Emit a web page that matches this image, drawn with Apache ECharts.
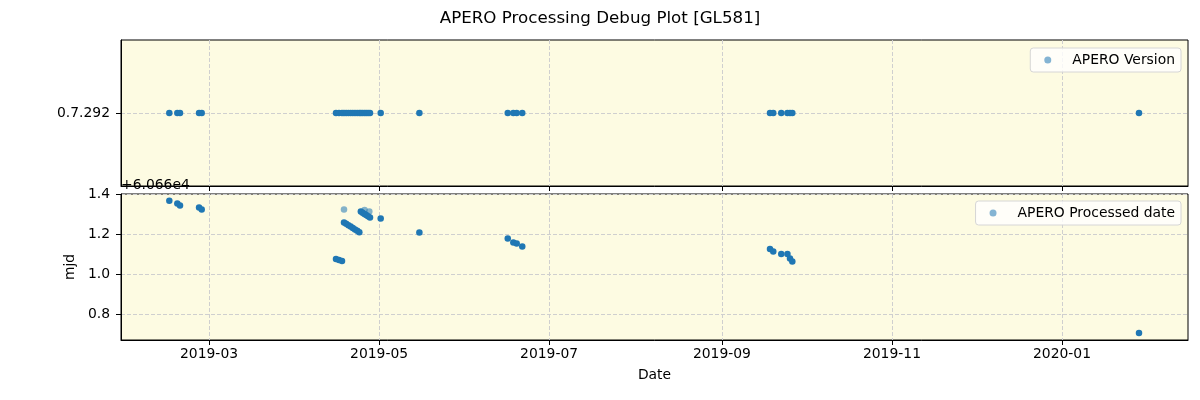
<!DOCTYPE html>
<html>
<head>
<meta charset="utf-8">
<script src="https://cdn.jsdelivr.net/npm/echarts@6/dist/echarts.min.js"></script>
<style>html,body{margin:0;padding:0;background:#fff;}#c{width:1200px;height:400px;}</style>
</head>
<body>
<div id="c"></div>
<script>
// ---- data ----
const obsDates = [
  '2019-02-14 18:00','2019-02-17 15:00','2019-02-18 14:00','2019-02-25 10:00','2019-02-26 09:00',
  '2019-04-15 13:00','2019-04-16 15:00','2019-04-17 17:00',
  '2019-04-18 10:00','2019-04-19 05:00','2019-04-20 00:00','2019-04-20 19:00','2019-04-21 14:00','2019-04-22 09:00','2019-04-23 04:00','2019-04-23 22:00',
  '2019-04-24 11:00','2019-04-25 02:00','2019-04-25 18:00','2019-04-26 09:00','2019-04-27 01:00','2019-04-27 18:00',
  '2019-05-01 14:00','2019-05-15 11:00',
  '2019-06-16 04:00','2019-06-18 04:00','2019-06-19 09:00','2019-06-21 09:00',
  '2019-09-18 06:00','2019-09-19 10:00','2019-09-22 07:00','2019-09-24 12:00','2019-09-25 10:00','2019-09-26 06:00',
  '2020-01-28 15:00'
];
const versions = obsDates.map(() => '0.7.292');
const processedMjd = [
  60661.366, 60661.353, 60661.342, 60661.333, 60661.323,
  60661.075, 60661.070, 60661.065,
  60661.258, 60661.251, 60661.244, 60661.237, 60661.230, 60661.223, 60661.216, 60661.209,
  60661.312, 60661.306, 60661.300, 60661.295, 60661.289, 60661.282,
  60661.278, 60661.208,
  60661.178, 60661.158, 60661.153, 60661.137,
  60661.125, 60661.112, 60661.100, 60661.100, 60661.078, 60661.062,
  60660.705
];
// single (semi-transparent) entries
const fadedDates = ['2019-04-18 10:00','2019-04-25 19:00','2019-04-27 12:00'];
const fadedMjd = [60661.323, 60661.320, 60661.312];

const versionTicks = ['0.7.292'];
const xTickDates = ['2019-03-01','2019-05-01','2019-07-01','2019-09-01','2019-11-01','2020-01-01'];
const mjdTicks = [60660.8, 60661.0, 60661.2, 60661.4];
const mjdOffset = 60660;
const xMinDate = '2019-01-28 10:00';
const xMaxDate = '2020-02-15 05:00';

// ---- chart ----
const ts = s => echarts.time.parse(s).getTime();
const xTicks = xTickDates.map(ts);
const pad2 = n => (n < 10 ? '0' : '') + n;
const fmtDate = v => { const d = new Date(v); return d.getFullYear() + '-' + pad2(d.getMonth() + 1); };

const blue = '#1f77b4';
const font = 'DejaVu Sans';
const fs = 13.9;
const grid = { show: true, backgroundColor: '#fdfbe2', borderColor: '#000', borderWidth: 1 };
const dash = { show: true, lineStyle: { color: '#cfcfcf', type: [4, 2], width: 1 } };

const topData = obsDates.map((d, i) => ({ value: [ts(d), versionTicks.indexOf(versions[i])], itemStyle: { opacity: 1 } }));
const botData = obsDates.map((d, i) => ({ value: [ts(d), processedMjd[i]], itemStyle: { opacity: 1 } }))
  .concat(fadedDates.map((d, i) => ({ value: [ts(d), fadedMjd[i]], itemStyle: { opacity: 0.55 } })));

function xAxis(gi, showLabel) {
  return {
    type: 'value', gridIndex: gi, min: ts(xMinDate), max: ts(xMaxDate), scale: true,
    axisLine: { show: true, onZero: false, lineStyle: { color: '#000' } },
    axisTick: { show: true, length: 5, customValues: xTicks, lineStyle: { color: '#000' } },
    axisLabel: { show: showLabel, customValues: xTicks, formatter: fmtDate, color: '#000', fontFamily: font, fontSize: fs, margin: 7 },
    splitLine: dash,
    name: showLabel ? 'Date' : '', nameLocation: 'middle', nameGap: 28,
    nameTextStyle: { color: '#000', fontFamily: font, fontSize: fs }
  };
}

const option = {
  animation: false,
  title: { text: 'APERO Processing Debug Plot [GL581]', left: 'center', top: 5,
    textStyle: { fontFamily: font, fontSize: 16.7, fontWeight: 'normal', color: '#000' } },
  grid: [
    Object.assign({ left: 121, right: 12, top: 40, height: 146 }, grid),
    Object.assign({ left: 121, right: 12, top: 194, height: 146 }, grid)
  ],
  xAxis: [xAxis(0, false), xAxis(1, true)],
  yAxis: [
    { type: 'value', gridIndex: 0, min: -1, max: 1,
      axisLine: { show: true, onZero: false, lineStyle: { color: '#000' } },
      axisTick: { show: true, length: 5, customValues: [0], lineStyle: { color: '#000' } },
      axisLabel: { customValues: [0], formatter: v => versionTicks[Math.round(v)] || '', color: '#000', fontFamily: font, fontSize: fs, margin: 11 },
      splitLine: dash },
    { type: 'value', gridIndex: 1, min: 60660.67, max: 60661.4, scale: true,
      axisLine: { show: true, onZero: false, lineStyle: { color: '#000' } },
      axisTick: { show: true, length: 5, customValues: mjdTicks, lineStyle: { color: '#000' } },
      axisLabel: { customValues: mjdTicks, formatter: v => (v - mjdOffset).toFixed(1), color: '#000', fontFamily: font, fontSize: fs, margin: 11 },
      splitLine: dash,
      name: 'mjd', nameLocation: 'middle', nameGap: 37, nameRotate: 90,
      nameTextStyle: { color: '#000', fontFamily: font, fontSize: fs } }
  ],
  legend: [
    { data: ['APERO Version'], right: 19, top: 48, orient: 'vertical',
      backgroundColor: 'rgba(255,255,255,0.8)', borderColor: '#d6d6d6', borderWidth: 1, borderRadius: 3,
      padding: [5, 6, 5, 14], itemWidth: 7, itemHeight: 7, icon: 'circle',
      textStyle: { fontFamily: font, fontSize: fs, color: '#000', padding: [0, 0, 0, 16] } },
    { data: ['APERO Processed date'], right: 19, top: 201, orient: 'vertical',
      backgroundColor: 'rgba(255,255,255,0.8)', borderColor: '#d6d6d6', borderWidth: 1, borderRadius: 3,
      padding: [5, 6, 5, 14], itemWidth: 7, itemHeight: 7, icon: 'circle',
      textStyle: { fontFamily: font, fontSize: fs, color: '#000', padding: [0, 0, 0, 16] } }
  ],
  graphic: [
    { type: 'text', left: 121, top: 178, z: 100,
      style: { text: '+6.066e4', fontFamily: font, fontSize: fs, fill: '#000' } }
  ],
  series: [
    { name: 'APERO Version', type: 'scatter', xAxisIndex: 0, yAxisIndex: 0, symbolSize: 6.5,
      itemStyle: { color: blue, opacity: 0.55 }, data: topData },
    { name: 'APERO Processed date', type: 'scatter', xAxisIndex: 1, yAxisIndex: 1, symbolSize: 6.5,
      itemStyle: { color: blue, opacity: 0.55 }, data: botData }
  ]
};
const chart = echarts.init(document.getElementById('c'), null, { renderer: 'canvas' });
chart.setOption(option);
</script>
</body>
</html>
